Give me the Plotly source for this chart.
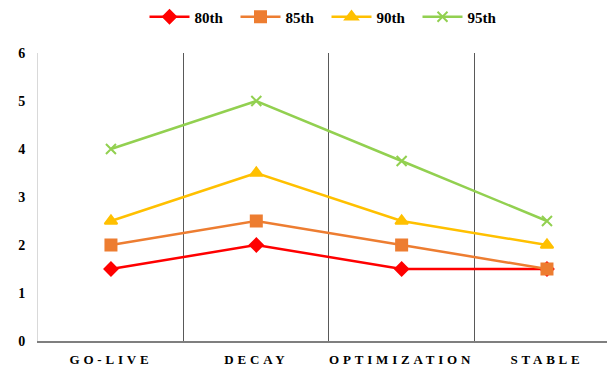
import plotly.graph_objects as go

categories = ["GO-LIVE", "DECAY", "OPTIMIZATION", "STABLE"]
series_names = ["80th", "85th", "90th", "95th"]
p80 = [1.5, 2.0, 1.5, 1.5]
p85 = [2.0, 2.5, 2.0, 1.5]
p90 = [2.5, 3.5, 2.5, 2.0]
p95 = [4.0, 5.0, 3.75, 2.5]
y_ticks = [0, 1, 2, 3, 4, 5, 6]

values = [p80, p85, p90, p95]
colors = ["#FF0000", "#ED7D31", "#FFC000", "#92D050"]
symbols = ["diamond", "square", "triangle-up", "x-thin"]
sizes = [10, 11, 11, 10]

font = "Liberation Serif"

fig = go.Figure()
for name, vals, c, s, sz in zip(series_names, values, colors, symbols, sizes):
    fig.add_trace(go.Scatter(
        x=categories, y=vals, name=name, mode="lines+markers",
        line=dict(color=c, width=2.5),
        marker=dict(symbol=s, size=sz, color=c, line=dict(color=c, width=2)),
    ))

tick_text = ['<span style="letter-spacing:3.8px">%s</span>' % c for c in categories]

fig.update_layout(
    width=607, height=361,
    margin=dict(l=30, r=0, t=45, b=28, autoexpand=False),
    paper_bgcolor="white", plot_bgcolor="white",
    font=dict(family=font, color="#000000"),
    showlegend=True,
    legend=dict(orientation="h", x=0.5, xanchor="center", y=1.125, yanchor="middle",
                font=dict(family=font, size=15, color="#000000", weight="bold"),
                itemwidth=40, tracegroupgap=0,
                entrywidth=36, entrywidthmode="pixels"),
    xaxis=dict(
        type="category", range=[-0.502, 3.468],
        tickvals=categories, ticktext=tick_text, tickangle=0,
        tickson="boundaries", showgrid=True, gridcolor="#595959", gridwidth=1,
        showline=True, linecolor="#7F7F7F", linewidth=1.5,
        ticks="", tickfont=dict(family=font, size=13, color="#000000", weight="bold"),
        zeroline=False, ticklabelstandoff=6,
    ),
    yaxis=dict(
        range=[0, 6], tickvals=y_ticks, showgrid=False,
        showline=True, linecolor="#D9D9D9", linewidth=1,
        ticks="", ticklen=0, tickfont=dict(family=font, size=14, color="#000000", weight="bold"),
        zeroline=False, ticklabelstandoff=9,
    ),
)

fig.write_html("out.html")
